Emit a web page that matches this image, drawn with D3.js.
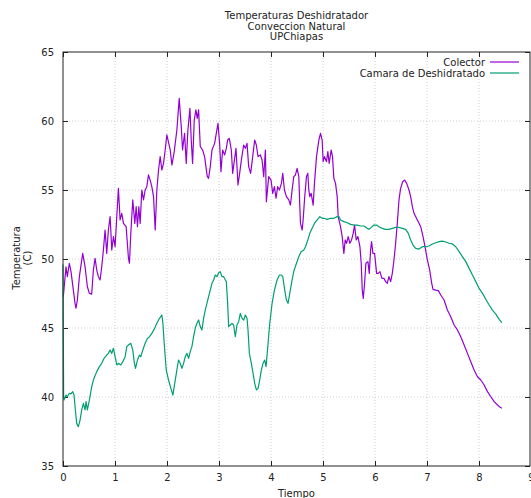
<!DOCTYPE html>
<html><head><meta charset="utf-8">
<script src="https://d3js.org/d3.v7.min.js"></script>
<style>
body{margin:0;background:#fff}
svg{display:block}
text{font-family:"DejaVu Sans",sans-serif;font-size:10px;fill:#222}
</style></head>
<body><svg id="chart" width="531" height="498"></svg>
<script>
const titleLines = ["Temperaturas Deshidratador", "Conveccion Natural", "UPChiapas"];
const xLabel = "Tiempo";
const yLabelLines = ["Temperatura", "(C)"];
const xTicks = [0, 1, 2, 3, 4, 5, 6, 7, 8, 9];
const yTicks = [35, 40, 45, 50, 55, 60, 65];
const seriesNames = ["Colector", "Camara de Deshidratado"];
const seriesColors = ["#9400d3", "#009e73"];

// [tiempo, temperatura]
const colector = [[0.006,47.27],[0.058,49.44],[0.083,48.72],[0.122,49.69],[0.154,49.08],[0.199,47.75],[0.231,46.79],[0.25,46.43],[0.276,47.03],[0.315,48.72],[0.379,50.41],[0.424,49.44],[0.469,47.99],[0.507,47.51],[0.552,47.46],[0.584,49.2],[0.617,50.05],[0.649,49.2],[0.681,48.72],[0.713,48.48],[0.745,49.44],[0.777,50.65],[0.809,52.1],[0.841,50.41],[0.873,52.1],[0.906,53.07],[0.938,50.65],[0.97,51.62],[1.002,50.89],[1.034,53.07],[1.066,55.12],[1.098,52.83],[1.13,53.31],[1.163,52.58],[1.214,52.34],[1.259,50.05],[1.278,49.69],[1.304,51.86],[1.342,54.28],[1.381,52.58],[1.407,53.79],[1.432,52.34],[1.458,53.79],[1.484,52.58],[1.516,55.0],[1.548,54.28],[1.58,55.0],[1.612,55.24],[1.644,56.09],[1.676,55.72],[1.708,55.24],[1.741,54.52],[1.773,52.1],[1.805,55.0],[1.837,56.45],[1.869,57.42],[1.901,56.45],[1.933,56.93],[1.965,57.9],[1.997,58.99],[2.062,57.9],[2.094,56.81],[2.139,57.78],[2.19,59.35],
[2.235,61.64],[2.274,59.59],[2.299,57.9],[2.338,59.11],[2.37,56.93],[2.402,59.35],[2.441,60.92],[2.466,58.62],[2.492,56.93],[2.524,60.07],[2.556,60.8],[2.582,60.19],[2.608,60.8],[2.64,58.14],[2.685,57.9],[2.723,57.42],[2.749,56.69],[2.775,55.97],[2.8,55.85],[2.832,56.69],[2.865,57.9],[2.916,58.38],[2.948,59.11],[2.98,59.83],[3.012,58.38],[3.038,56.33],[3.07,57.9],[3.109,57.54],[3.141,58.02],[3.166,58.62],[3.198,58.74],[3.237,57.9],[3.263,56.21],[3.288,56.93],[3.327,58.02],[3.365,55.36],[3.397,56.21],[3.43,57.17],[3.474,58.26],[3.507,58.02],[3.539,58.38],[3.571,56.69],[3.609,56.21],[3.648,57.42],[3.686,58.62],[3.718,58.26],[3.751,57.42],[3.796,57.54],[3.828,57.17],[3.86,55.97],[3.892,57.9],[3.911,54.15],[3.956,55.97],[4.001,55.72],[4.033,54.76],[4.065,55.24],[4.097,54.4],[4.129,55.24],[4.162,55.0],[4.2,55.48],[4.226,56.21],[4.258,55.0],[4.297,54.52],[4.342,54.28],[4.374,53.91],
[4.406,55.0],[4.438,55.97],[4.47,56.09],[4.502,56.57],[4.535,55.97],[4.554,53.79],[4.567,52.58],[4.599,52.1],[4.618,52.83],[4.644,54.28],[4.682,55.97],[4.708,56.21],[4.727,55.0],[4.746,54.52],[4.772,54.76],[4.811,53.91],[4.836,55.48],[4.875,57.42],[4.92,58.62],[4.952,59.11],[4.984,58.62],[5.003,57.05],[5.029,57.42],[5.067,57.05],[5.093,57.78],[5.119,56.93],[5.157,57.9],[5.183,57.42],[5.209,55.85],[5.241,55.48],[5.273,54.52],[5.292,53.07],[5.337,52.34],[5.369,51.62],[5.401,50.41],[5.427,51.38],[5.453,51.14],[5.485,51.62],[5.517,51.14],[5.549,51.38],[5.581,51.86],[5.607,52.46],[5.639,51.38],[5.671,51.62],[5.71,50.89],[5.735,49.69],[5.755,47.75],[5.774,47.15],[5.8,48.24],[5.825,49.69],[5.864,49.81],[5.89,48.96],[5.915,50.65],[5.934,51.26],[5.96,50.41],[5.992,50.41],[6.031,48.96],[6.063,48.96],[6.095,49.08],[6.134,48.6],[6.172,48.6],[6.204,48.36],[6.236,48.24],[6.268,48.72],[6.301,48.36],[6.333,48.96],[6.365,49.93],[6.397,51.14],[6.429,52.58],[6.461,54.28],[6.493,55.12],[6.532,55.6],[6.571,55.72],[6.609,55.48],[6.654,55.0],[6.686,54.52],
[6.718,53.79],[6.75,53.31],[6.815,52.83],[6.879,52.34],[6.924,51.62],[6.962,50.89],[7.007,49.93],[7.052,49.2],[7.091,48.24],[7.116,47.8],[7.168,47.75],[7.219,47.71],[7.264,47.39],[7.328,47.03],[7.392,46.3],[7.457,45.82],[7.521,45.22],[7.585,44.86],[7.649,44.37],[7.714,43.77],[7.778,43.16],[7.842,42.56],[7.906,41.96],[7.971,41.47],[8.035,41.23],[8.099,40.87],[8.163,40.39],[8.227,40.02],[8.292,39.66],[8.356,39.42],[8.407,39.25],[8.439,39.18]];

const camara = [[0,49.6],[0.012,40.0],[0.019,39.78],[0.058,40.14],[0.083,40.02],[0.122,40.27],[0.154,40.22],[0.186,40.39],[0.212,40.14],[0.238,39.06],[0.263,38.09],[0.295,37.85],[0.328,38.33],[0.36,39.06],[0.392,39.54],[0.424,39.06],[0.443,39.66],[0.469,39.06],[0.507,39.78],[0.552,40.75],[0.584,41.23],[0.649,41.84],[0.7,42.2],[0.745,42.44],[0.79,42.8],[0.841,43.04],[0.873,43.16],[0.906,43.41],[0.938,43.16],[0.97,43.53],[1.002,42.92],[1.034,42.32],[1.066,42.44],[1.111,42.32],[1.15,42.56],[1.195,42.92],[1.227,43.65],[1.259,43.77],[1.304,43.89],[1.342,43.41],[1.368,42.56],[1.394,42.08],[1.432,42.68],[1.471,43.04],[1.496,42.92],[1.535,43.41],[1.58,43.89],[1.625,44.25],[1.664,44.37],[1.708,44.61],[1.753,44.9],[1.805,45.34],[1.856,45.7],[1.901,45.94],[1.921,45.34],[1.946,43.89],[1.985,41.96],[2.03,41.23],[2.075,40.63],[2.113,40.14],[2.139,40.75],
[2.19,41.96],[2.222,42.68],[2.254,42.44],[2.287,42.08],[2.319,42.44],[2.351,42.92],[2.383,43.16],[2.415,42.8],[2.447,43.29],[2.479,43.65],[2.511,44.37],[2.543,44.98],[2.576,45.34],[2.608,45.58],[2.64,45.1],[2.672,44.86],[2.704,45.7],[2.736,46.3],[2.768,46.79],[2.8,47.27],[2.832,47.75],[2.865,48.24],[2.897,48.48],[2.929,48.84],[2.961,48.72],[2.993,49.01],[3.025,49.08],[3.057,48.72],[3.09,48.72],[3.122,48.48],[3.141,48.36],[3.166,46.79],[3.186,45.1],[3.218,45.22],[3.25,45.34],[3.282,45.22],[3.314,44.37],[3.346,45.22],[3.378,45.46],[3.41,46.06],[3.443,45.7],[3.475,45.58],[3.507,45.94],[3.539,45.7],[3.558,44.86],[3.584,43.16],[3.622,42.44],[3.655,41.71],[3.687,40.99],[3.719,40.51],[3.751,40.63],[3.783,41.23],[3.815,41.96],[3.847,42.44],[3.879,42.68],[3.905,42.2],[3.944,43.89],[3.976,45.34],[4.021,46.79],[4.066,47.75],[4.117,48.48],[4.162,48.84],[4.2,48.84],[4.226,48.72],[4.264,47.75],[4.296,47.03],[4.328,46.79],[4.361,47.51],[4.406,48.48],[4.438,49.1],
[4.49,49.69],[4.535,50.17],[4.579,50.53],[4.631,50.65],[4.663,50.89],[4.708,51.38],[4.746,51.86],[4.791,52.22],[4.836,52.58],[4.888,52.83],[4.939,53.07],[4.984,52.95],[5.016,52.95],[5.08,52.87],[5.144,52.95],[5.209,52.95],[5.273,53.07],[5.305,53.07],[5.337,52.83],[5.401,52.71],[5.465,52.63],[5.53,52.51],[5.594,52.46],[5.658,52.46],[5.722,52.39],[5.786,52.39],[5.851,52.22],[5.883,52.15],[5.928,52.29],[5.979,52.46],[6.031,52.46],[6.075,52.34],[6.14,52.22],[6.204,52.15],[6.268,52.15],[6.333,52.22],[6.397,52.29],[6.461,52.29],[6.525,52.22],[6.589,52.15],
[6.641,51.86],[6.686,51.38],[6.731,51.01],[6.783,50.77],[6.847,50.72],[6.911,50.89],[6.975,50.89],[7.039,50.94],[7.104,51.09],[7.168,51.18],[7.232,51.26],[7.296,51.3],[7.36,51.23],[7.425,51.14],[7.489,51.09],[7.553,50.89],[7.617,50.53],[7.681,50.17],[7.746,49.81],[7.81,49.32],[7.874,48.84],[7.938,48.36],[8.002,47.87],[8.067,47.51],[8.131,47.08],[8.195,46.67],[8.259,46.3],[8.323,46.01],[8.388,45.63],[8.439,45.39]];

const series = [colector, camara];

const svg = d3.select("#chart");
const L = 63, R = 530, T = 52, B = 466;
const x = d3.scaleLinear().domain([0, 9]).range([L, 531]);
const y = d3.scaleLinear().domain([35, 65]).range([B, T]);

// grid
const grid = svg.append("g").attr("stroke", "#c4c4c4").attr("stroke-width", 0.8).attr("stroke-dasharray", "1,2");
grid.selectAll(".gx").data(xTicks.filter(d => d > 0 && d < 9)).enter().append("line")
  .attr("x1", d => x(d)).attr("x2", d => x(d)).attr("y1", T).attr("y2", B);
grid.selectAll(".gy").data(yTicks.filter(d => d > 35 && d < 65)).enter().append("line")
  .attr("x1", L).attr("x2", R).attr("y1", d => y(d)).attr("y2", d => y(d));

// axes
function styleAxis(g){
  g.select(".domain").remove();
  g.selectAll(".tick line").attr("stroke", "#222");
  g.selectAll(".tick text").attr("fill", "#222").style("font-family", "DejaVu Sans, sans-serif").style("font-size", "10px");
}
svg.append("g").attr("transform", `translate(0,${B})`)
  .call(d3.axisBottom(x).tickValues(xTicks).tickFormat(d3.format("d")).tickSize(-5).tickPadding(8)).call(styleAxis);
svg.append("g").attr("transform", `translate(0,${T})`)
  .call(d3.axisTop(x).tickValues(xTicks.filter(d => d < 9)).tickFormat("").tickSize(-5)).call(styleAxis);
svg.append("g").attr("transform", `translate(${L},0)`)
  .call(d3.axisLeft(y).tickValues(yTicks).tickFormat(d3.format("d")).tickSize(-5).tickPadding(9)).call(styleAxis);
svg.append("g").attr("transform", `translate(${R},0)`)
  .call(d3.axisRight(y).tickValues(yTicks).tickFormat("").tickSize(-5)).call(styleAxis);

// lines
const line = d3.line().x(d => x(d[0])).y(d => y(d[1]));
series.forEach((s, i) => {
  svg.append("path").datum(s).attr("d", line).attr("fill", "none")
    .attr("stroke", seriesColors[i]).attr("stroke-width", 1.2).attr("stroke-linejoin", "round");
});

// frame
svg.append("rect").attr("x", L).attr("y", T).attr("width", R - L).attr("height", B - T)
  .attr("fill", "none").attr("stroke", "#222").attr("stroke-width", 1);

// title
svg.append("text").attr("text-anchor", "middle").selectAll("tspan").data(titleLines).enter().append("tspan")
  .attr("x", (L + R) / 2).attr("y", (d, i) => 19 + i * 10.7).text(d => d);

// axis labels
svg.append("text").attr("text-anchor", "middle").attr("x", (L + R) / 2).attr("y", 497).text(xLabel);
svg.append("text").attr("text-anchor", "middle").attr("transform", "translate(0,258) rotate(-90)")
  .selectAll("tspan").data(yLabelLines).enter().append("tspan")
  .attr("x", 0).attr("y", (d, i) => 20 + i * 10.5).text(d => d);

// legend
const leg = svg.append("g");
seriesNames.forEach((n, i) => {
  const yy = 62 + i * 11;
  leg.append("text").attr("x", 485).attr("y", yy + 3.5).attr("text-anchor", "end").text(n);
  leg.append("line").attr("x1", 490).attr("x2", 519).attr("y1", yy).attr("y2", yy)
    .attr("stroke", seriesColors[i]).attr("stroke-width", 1.2);
});
</script></body></html>
